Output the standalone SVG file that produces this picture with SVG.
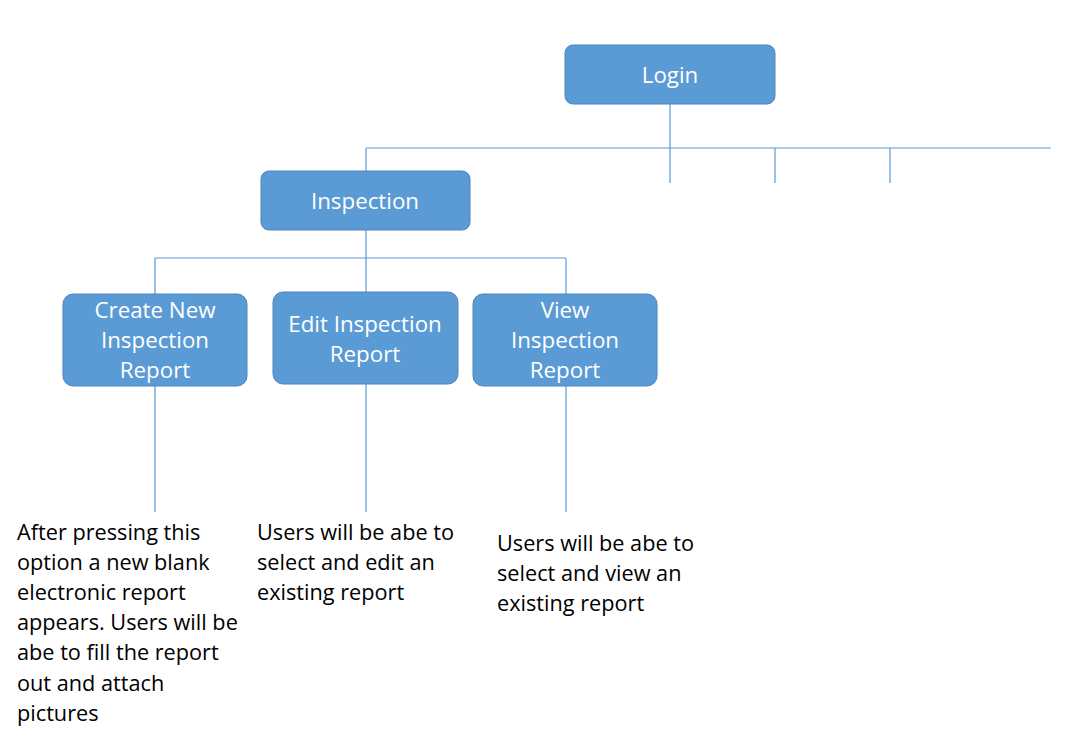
<svg xmlns="http://www.w3.org/2000/svg" width="1080" height="740" viewBox="0 0 1080 740">
<style>
.box{fill:#5b9bd5;stroke:#4a86bf;stroke-width:1}
.bt{font-family:"Open Sans","Liberation Sans",sans-serif;font-size:22.3px;fill:#ffffff;text-anchor:middle}
.dt{font-family:"Open Sans","Liberation Sans",sans-serif;font-size:21.7px;fill:#000000}
.ln{stroke:#5b9bd5;stroke-width:1.2;fill:none}
</style>
<rect width="1080" height="740" fill="#ffffff"/>
<g id="connectors">
<path class="ln" d="M670,104V183M366,148H1051M775,148V183M890,148V183M366,148V171"/>
<path class="ln" d="M366,230V292M155,258H566M155,258V294M566,258V294"/>
<path class="ln" d="M155,386V512M366,384V512M566,386V512"/>
</g>
<g id="login">
<rect class="box" x="565" y="45" width="210" height="59" rx="8"/>
<text class="bt" x="670" y="83">Login</text>
</g>
<g id="inspection">
<rect class="box" x="261" y="171" width="209" height="59" rx="8"/>
<text class="bt" x="365" y="209">Inspection</text>
</g>
<g id="create">
<rect class="box" x="63" y="294" width="184" height="92" rx="10"/>
<text class="bt" x="155" y="318">Create New</text>
<text class="bt" x="155" y="348">Inspection</text>
<text class="bt" x="155" y="378">Report</text>
</g>
<g id="edit">
<rect class="box" x="273" y="292" width="185" height="92" rx="10"/>
<text class="bt" x="365" y="332">Edit Inspection</text>
<text class="bt" x="365" y="362">Report</text>
</g>
<g id="view">
<rect class="box" x="473" y="294" width="184" height="92" rx="10"/>
<text class="bt" x="565" y="318">View</text>
<text class="bt" x="565" y="348">Inspection</text>
<text class="bt" x="565" y="378">Report</text>
</g>
<g id="create-desc">
<text class="dt" x="17" y="540">After pressing this</text>
<text class="dt" x="17" y="570">option a new blank</text>
<text class="dt" x="17" y="600">electronic report</text>
<text class="dt" x="17" y="630">appears. Users will be</text>
<text class="dt" x="17" y="660">abe to fill the report</text>
<text class="dt" x="17" y="691">out and attach</text>
<text class="dt" x="17" y="721">pictures</text>
</g>
<g id="edit-desc">
<text class="dt" x="257" y="540">Users will be abe to</text>
<text class="dt" x="257" y="570">select and edit an</text>
<text class="dt" x="257" y="600">existing report</text>
</g>
<g id="view-desc">
<text class="dt" x="497" y="551">Users will be abe to</text>
<text class="dt" x="497" y="581">select and view an</text>
<text class="dt" x="497" y="611">existing report</text>
</g>
</svg>
